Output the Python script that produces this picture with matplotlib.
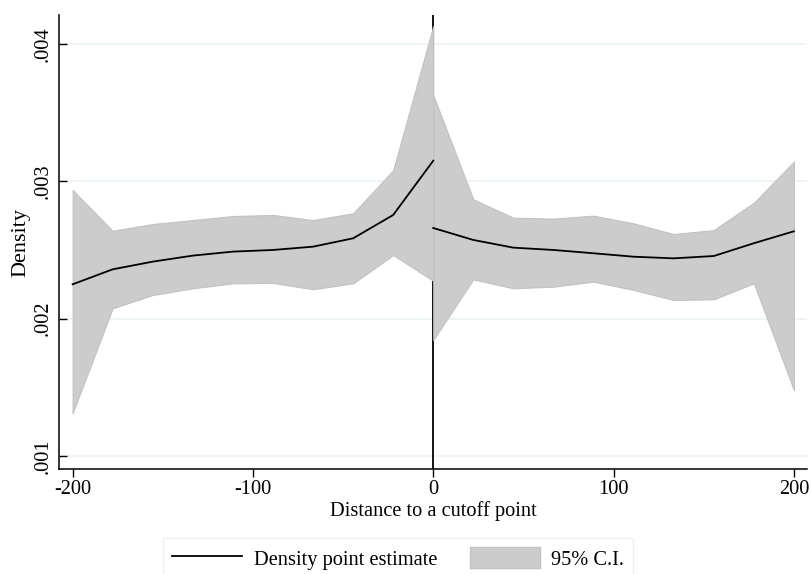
import numpy as np
import matplotlib.pyplot as plt
from matplotlib.lines import Line2D
from matplotlib.patches import Patch

# grid points on each side of the cutoff
x_left = [-200, -177.8, -155.6, -133.3, -111.1, -88.9, -66.7, -44.4, -22.2, 0]
x_right = [0, 22.2, 44.4, 66.7, 88.9, 111.1, 133.3, 155.6, 177.8, 200]

# density estimates and 95% C.I. bounds
est_left = [0.00225, 0.002359, 0.002415, 0.002459, 0.002488, 0.0025, 0.002524, 0.002585, 0.002755, 0.00315]
hi_left = [0.002937, 0.00264, 0.002689, 0.002718, 0.002747, 0.002755, 0.002718, 0.002767, 0.003082, 0.004131]
lo_left = [0.001311, 0.002075, 0.002172, 0.002221, 0.002257, 0.00226, 0.002214, 0.002257, 0.002463, 0.002276]

est_right = [0.00266, 0.002573, 0.002517, 0.0025, 0.002476, 0.002451, 0.002439, 0.002456, 0.002549, 0.002636]
hi_right = [0.003628, 0.002869, 0.002735, 0.002728, 0.00275, 0.002694, 0.002616, 0.002645, 0.002844, 0.003143]
lo_right = [0.001844, 0.002286, 0.002221, 0.002233, 0.002269, 0.002209, 0.002136, 0.002141, 0.002257, 0.00148]

yticks = [0.001, 0.002, 0.003, 0.004]
ytick_labels = ['.001', '.002', '.003', '.004']
xticks = [-200, -100, 0, 100, 200]

plt.rcParams['font.family'] = ['Liberation Serif', 'DejaVu Serif']
fs = 14.7

fig = plt.figure(figsize=(8.11, 5.74), dpi=100)
ax = fig.add_axes([0.0731, 0.1824, 0.922, 0.7915])

ax.axvline(0, color='black', lw=1.3, zorder=1)
fill_kw = dict(facecolor='#cccccc', edgecolor='#c2c2c2', lw=0.8, zorder=2)
ax.fill_between(x_left, lo_left, hi_left, **fill_kw)
ax.fill_between(x_right, lo_right, hi_right, **fill_kw)
ax.plot(x_left, est_left, color='black', lw=1.3, zorder=3)
ax.plot(x_right, est_right, color='black', lw=1.3, zorder=3)

ax.set_xlim(-207.4, 207.3)
ax.set_ylim(0.000903, 0.004211)
ax.set_yticks(yticks)
ax.set_yticklabels(ytick_labels, rotation=90, va='center', fontsize=fs)
ax.set_xticks(xticks)
ax.set_xticklabels([str(t) for t in xticks], fontsize=fs)
ax.grid(axis='y', color='#eaf2f3', lw=1.2, zorder=0)
ax.set_axisbelow(True)
ax.tick_params(axis='x', direction='out', length=6, width=1, color='black', pad=2)
ax.tick_params(axis='y', direction='in', length=6, width=1, color='black', pad=5)

for s in ['top', 'right']:
    ax.spines[s].set_visible(False)
for s in ['left', 'bottom']:
    ax.spines[s].set_linewidth(1.1)

ax.set_xlabel('Distance to a cutoff point', fontsize=fs, labelpad=1)
ax.set_ylabel('Density', fontsize=16, labelpad=2)

handles = [Line2D([], [], color='black', lw=1.3),
           Patch(facecolor='#cccccc', edgecolor='#c2c2c2')]
leg = fig.legend(handles, ['Density point estimate', '95% C.I.'], ncol=2,
                 loc='upper left', bbox_to_anchor=(162.7 / 811, 1 - 538.3 / 574),
                 fontsize=fs, frameon=True, fancybox=False, handlelength=3.45,
                 handleheight=1.15, handletextpad=0.55, columnspacing=1.6,
                 borderpad=0.45, borderaxespad=0)
leg.get_frame().set_edgecolor('#e6eef0')
leg.get_frame().set_linewidth(1.0)

fig.savefig('out.png', dpi=100)
